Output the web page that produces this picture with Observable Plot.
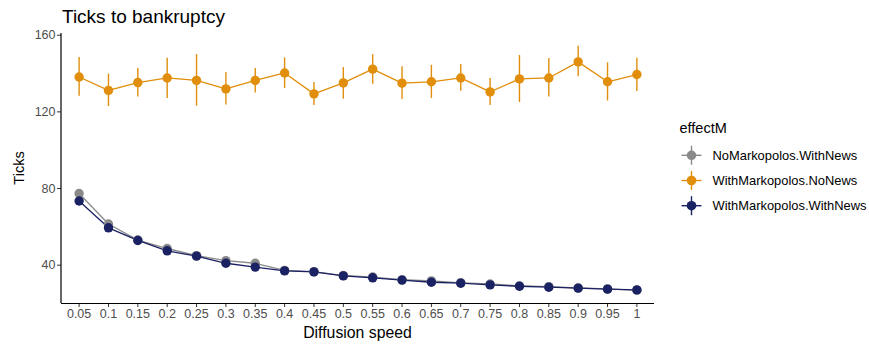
<!DOCTYPE html>
<html><head><meta charset="utf-8">
<script src="https://cdn.jsdelivr.net/npm/d3@7"></script>
<script src="https://cdn.jsdelivr.net/npm/@observablehq/plot@0.6"></script>
<style>
body{margin:0;background:#fff;font-family:"Liberation Sans",Arial,sans-serif;}
#wrap{position:relative;width:869px;height:346px;}
</style></head><body>
<div id="wrap"></div>
<script>
const speeds = ["0.05","0.1","0.15","0.2","0.25","0.3","0.35","0.4","0.45","0.5","0.55","0.6","0.65","0.7","0.75","0.8","0.85","0.9","0.95","1"];
const seriesNames = ["NoMarkopolos.WithNews","WithMarkopolos.NoNews","WithMarkopolos.WithNews"];
const seriesColors = ["#8a8a8a","#e08e0c","#1b2263"];
const yTicks = [40,80,120,160];

const greyMean = [77.4,61.5,53.1,48.7,45.0,42.4,41.0,37.3,36.6,34.6,33.8,32.4,31.8,30.8,30.2,29.2,28.8,28.1,27.6,26.9];
const greyLow  = [76.4,60.6,52.3,47.9,44.3,41.6,40.2,36.6,35.9,33.9,33.1,31.8,31.1,30.2,29.6,28.6,28.2,27.5,27.0,26.3];
const greyHigh = [78.4,62.4,53.9,49.5,45.7,43.2,41.8,38.0,37.3,35.3,34.5,33.0,32.5,31.4,30.8,29.8,29.4,28.7,28.2,27.5];

const orangeMean = [138.2,131.2,135.3,137.7,136.4,132.0,136.4,140.3,129.4,135.1,142.3,135.0,135.7,137.7,130.4,137.2,137.7,146.1,135.7,139.5];
const orangeLow  = [128.2,122.8,127.8,127.0,123.0,123.6,129.9,132.2,123.3,126.6,134.4,126.4,127.0,130.8,123.3,124.9,127.8,138.3,125.7,130.6];
const orangeHigh = [148.4,139.7,142.6,148.0,149.9,140.5,142.6,148.2,135.3,143.1,149.9,143.5,144.3,144.7,137.4,149.4,147.8,154.3,145.6,148.0];

const navyMean = [73.5,59.5,52.9,47.5,44.7,41.0,39.0,37.0,36.5,34.4,33.4,32.2,31.1,30.6,29.7,29.0,28.5,28.0,27.5,27.1];
const navyLow  = [72.5,58.6,52.1,46.8,44.0,40.3,38.3,36.3,35.8,33.7,32.8,31.6,30.5,30.0,29.1,28.4,27.9,27.4,26.9,26.5];
const navyHigh = [74.5,60.4,53.7,48.2,45.4,41.7,39.7,37.7,37.2,35.1,34.0,32.8,31.7,31.2,30.3,29.6,29.1,28.6,28.1,27.7];

const means = [greyMean, orangeMean, navyMean];
const lows = [greyLow, orangeLow, navyLow];
const highs = [greyHigh, orangeHigh, navyHigh];

const data = [];
seriesNames.forEach((s, si) => speeds.forEach((sp, i) => data.push({series: s, speed: sp, mean: means[si][i], low: lows[si][i], high: highs[si][i]})));

const ML = 61, MR = 215, MT = 33, MB = 43, W = 869, H = 346;
const chart = Plot.plot({
  width: W, height: H,
  marginLeft: ML, marginRight: MR, marginTop: MT, marginBottom: MB,
  style: {fontFamily: '"Liberation Sans", Arial, sans-serif', fontSize: "12.5px", background: "#fff"},
  x: {type: "point", domain: speeds, padding: 0.6, round: false, label: null},
  y: {domain: [20, 160.9], label: null},
  color: {domain: seriesNames, range: seriesColors},
  marks: [
    Plot.axisX({tickSize: 4, tickPadding: 2, fontSize: 12.5, color: "#4d4d4d", stroke: "#333", label: null}),
    Plot.axisY({ticks: yTicks, tickSize: 4, tickPadding: 2, fontSize: 12.5, color: "#4d4d4d", stroke: "#333", label: null}),
    Plot.ruleY([20], {stroke: "#000", strokeWidth: 1.2}),
    Plot.ruleX(data, {x: "speed", y1: "low", y2: "high", stroke: "series", strokeWidth: 1.4}),
    Plot.line(data, {x: "speed", y: "mean", z: "series", stroke: "series", strokeWidth: 1.3}),
    Plot.dot(data, {x: "speed", y: "mean", fill: "series", r: 4.7})
  ]
});
document.getElementById("wrap").appendChild(chart);

const svg = d3.select(chart);
// left axis line through the library's y scale
const ys = chart.scale("y");
svg.append("line")
  .attr("x1", ML).attr("x2", ML)
  .attr("y1", ys.apply(ys.domain[0])).attr("y2", ys.apply(ys.domain[1]))
  .attr("stroke", "#000").attr("stroke-width", 1.2);

// title and axis titles
svg.append("text").attr("x", 62).attr("y", 22.7).attr("text-anchor", "start")
  .attr("font-size", 19).attr("fill", "#000").text("Ticks to bankruptcy");
svg.append("text").attr("x", (ML + (W - MR)) / 2).attr("y", 337.5).attr("text-anchor", "middle")
  .attr("font-size", 15.8).attr("fill", "#000").text("Diffusion speed");
svg.append("text").attr("transform", `translate(24,${(MT + (H - MB)) / 2}) rotate(-90)`).attr("text-anchor", "middle")
  .attr("font-size", 14.5).attr("fill", "#000").text("Ticks");

// legend
svg.append("text").attr("x", 679.5).attr("y", 132.5).attr("text-anchor", "start")
  .attr("font-size", 14.5).attr("fill", "#000").text("effectM");
seriesNames.forEach((s, i) => {
  const cy = 155.3 + i * 25.2, cx = 691.5;
  const g = svg.append("g");
  g.append("line").attr("x1", cx - 10).attr("x2", cx + 10).attr("y1", cy).attr("y2", cy).attr("stroke", seriesColors[i]).attr("stroke-width", 1.4);
  g.append("line").attr("x1", cx).attr("x2", cx).attr("y1", cy - 9.5).attr("y2", cy + 9.5).attr("stroke", seriesColors[i]).attr("stroke-width", 1.4);
  g.append("circle").attr("cx", cx).attr("cy", cy).attr("r", 4.8).attr("fill", seriesColors[i]);
  g.append("text").attr("x", 712.5).attr("y", cy + 4.6).attr("text-anchor", "start")
    .attr("font-size", 12.9).attr("fill", "#000").text(s);
});
</script>
</body></html>
